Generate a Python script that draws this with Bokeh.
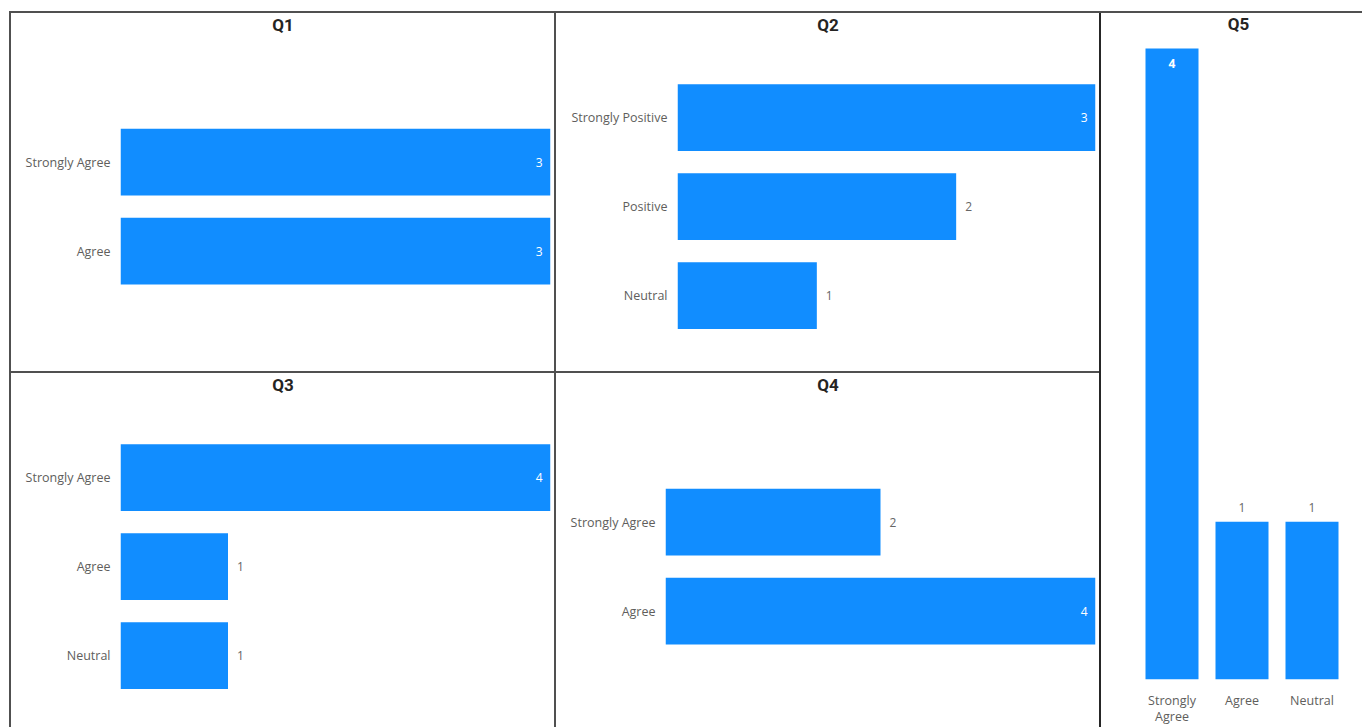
from bokeh.plotting import figure
from bokeh.models import Range1d, FixedTicker, Spacer, ColumnDataSource
from bokeh.layouts import row, column
from bokeh.embed import file_html
from bokeh.resources import INLINE
from bokeh.core.properties import value

# ---- survey results -------------------------------------------------------
q1_cats = ["Strongly Agree", "Agree"]
q1_vals = [3, 3]

q2_cats = ["Strongly Positive", "Positive", "Neutral"]
q2_vals = [3, 2, 1]

q3_cats = ["Strongly Agree", "Agree", "Neutral"]
q3_vals = [4, 1, 1]

q4_cats = ["Strongly Agree", "Agree"]
q4_vals = [2, 4]

q5_cats = ["Strongly Agree", "Agree", "Neutral"]
q5_vals = [4, 1, 1]
q5_tick_labels = ["Strongly\nAgree", "Agree", "Neutral"]

# ---- styling --------------------------------------------------------------
BAR = "#118DFF"
RULE = "#505050"
RULE_DARK = "#262626"
AXIS_TXT = "#605E5C"
VALUE_TXT = "#666666"
TITLE_TXT = "#252423"
LABEL_FONT = "Open Sans"
TITLE_FONT = "Roboto"
TITLE_Y = 11  # px below the panel top


def clean(p):
    p.xgrid.visible = False
    p.ygrid.visible = False
    p.outline_line_color = None
    p.background_fill_color = "white"
    p.border_fill_color = "white"


def draw_title(p, text, x, y):
    p.text(x=[x], y=[y], text=[text], text_align="center", text_baseline="middle",
           text_font=value(TITLE_FONT), text_font_size="17px", text_font_style="bold",
           text_color=TITLE_TXT)


def hbar_panel(title, cats, vals, width, height, left):
    band = 89.0          # px per category slot
    center_px = 193      # px from panel top to the middle of the category block
    bottom = 346         # px from panel top to the bottom of the plot frame
    right = 4
    n = len(cats)
    ys = [n - 1 - i for i in range(n)]
    mid = (n - 1) / 2
    vmax = max(vals)
    px_per_val = (width - left - right) / vmax
    p = figure(width=width, height=height,
               x_range=Range1d(0, vmax),
               y_range=Range1d(mid - (bottom - center_px) / band, mid + center_px / band),
               x_axis_location=None, toolbar_location=None, output_backend="svg",
               min_border_left=left, min_border_right=right,
               min_border_top=0, min_border_bottom=height - bottom)
    clean(p)
    src = ColumnDataSource(dict(y=ys, v=vals))
    p.hbar(y="y", left=0, right="v", height=0.75, source=src, fill_color=BAR, line_color=None)

    inside = [i for i, v in enumerate(vals) if v == vmax]
    outside = [i for i, v in enumerate(vals) if v != vmax]
    if inside:
        s_in = ColumnDataSource(dict(y=[ys[i] for i in inside], v=[vals[i] for i in inside],
                                     t=[str(vals[i]) for i in inside]))
        p.text(x="v", y="y", text="t", source=s_in, text_align="right", text_baseline="middle",
               x_offset=-8, text_color="white", text_font=value(LABEL_FONT), text_font_size="12px")
    if outside:
        s_out = ColumnDataSource(dict(y=[ys[i] for i in outside], v=[vals[i] for i in outside],
                                      t=[str(vals[i]) for i in outside]))
        p.text(x="v", y="y", text="t", source=s_out, text_align="left", text_baseline="middle",
               x_offset=9, text_color=VALUE_TXT, text_font=value(LABEL_FONT), text_font_size="12px")

    ax = p.yaxis[0]
    ax.ticker = FixedTicker(ticks=ys)
    ax.major_label_overrides = {y: c for y, c in zip(ys, cats)}
    ax.axis_line_color = None
    ax.major_tick_line_color = None
    ax.minor_tick_line_color = None
    ax.major_label_standoff = 4
    ax.major_label_text_font = LABEL_FONT
    ax.major_label_text_font_size = "12.5px"
    ax.major_label_text_color = AXIS_TXT

    # title centred over the whole panel
    draw_title(p, title, (width / 2 - left) / px_per_val, mid + (center_px - TITLE_Y) / band)
    return p


def vbar_panel(title, cats, labels, vals, width, height):
    slot = 70.0
    first_center = 70.5
    left = 14
    bar_top_px = 35      # px from panel top to the tallest bar
    bottom = 667
    frame_w = width - left
    n = len(cats)
    xs = list(range(n))
    vmax = max(vals)
    px_per_val = (bottom - bar_top_px) / vmax
    x0 = -(first_center - left) / slot
    x1 = x0 + frame_w / slot
    p = figure(width=width, height=height,
               x_range=Range1d(x0, x1), y_range=Range1d(0, vmax + bar_top_px / px_per_val),
               y_axis_location=None, toolbar_location=None, output_backend="svg",
               min_border_left=left, min_border_right=0,
               min_border_top=0, min_border_bottom=height - bottom)
    clean(p)
    src = ColumnDataSource(dict(x=xs, v=vals))
    p.vbar(x="x", bottom=0, top="v", width=53 / slot, source=src, fill_color=BAR, line_color=None)

    inside = [i for i, v in enumerate(vals) if v == vmax]
    outside = [i for i, v in enumerate(vals) if v != vmax]
    s_in = ColumnDataSource(dict(x=inside, v=[vals[i] for i in inside], t=[str(vals[i]) for i in inside]))
    p.text(x="x", y="v", text="t", source=s_in, text_align="center", text_baseline="middle",
           y_offset=15, text_color="white", text_font=value(LABEL_FONT), text_font_size="12px",
           text_font_style="bold")
    s_out = ColumnDataSource(dict(x=outside, v=[vals[i] for i in outside], t=[str(vals[i]) for i in outside]))
    p.text(x="x", y="v", text="t", source=s_out, text_align="center", text_baseline="middle",
           y_offset=-14, text_color=VALUE_TXT, text_font=value(LABEL_FONT), text_font_size="12px")

    ax = p.xaxis[0]
    ax.ticker = FixedTicker(ticks=xs)
    ax.major_label_overrides = {x: l for x, l in zip(xs, labels)}
    ax.axis_line_color = None
    ax.major_tick_line_color = None
    ax.minor_tick_line_color = None
    ax.major_label_standoff = 6
    ax.major_label_text_font = LABEL_FONT
    ax.major_label_text_font_size = "12.5px"
    ax.major_label_text_color = AXIS_TXT
    ax.major_label_text_line_height = 0.95

    draw_title(p, title, x0 + (137 - left) / slot, vmax + (bar_top_px - TITLE_Y) / px_per_val)
    return p


def rule(w, h, color=RULE):
    return Spacer(width=w, height=h, styles={"background-color": color}, margin=0)


def gap(w, h):
    return Spacer(width=w, height=h, margin=0)


PANEL_W = 543
TOP_H = 358
BOT_H = 354
Q5_W = 261
FULL_H = TOP_H + 2 + BOT_H
GRID_W = PANEL_W * 2 + 2

p1 = hbar_panel("Q1", q1_cats, q1_vals, PANEL_W, TOP_H, 109)
p2 = hbar_panel("Q2", q2_cats, q2_vals, PANEL_W, TOP_H, 121)
p3 = hbar_panel("Q3", q3_cats, q3_vals, PANEL_W, BOT_H, 109)
p4 = hbar_panel("Q4", q4_cats, q4_vals, PANEL_W, BOT_H, 109)
p5 = vbar_panel("Q5", q5_cats, q5_tick_labels, q5_vals, Q5_W, FULL_H)

top_row = row(p1, rule(2, TOP_H), p2, spacing=0)
bottom_row = row(p3, rule(2, BOT_H), p4, spacing=0)
grid = column(top_row, rule(GRID_W, 2), bottom_row, spacing=0)

body = row(rule(2, FULL_H), grid, rule(2, FULL_H, RULE_DARK), p5, spacing=0)
page = column(
    gap(1362, 11),
    row(gap(9, 2), rule(1353, 2), spacing=0),
    row(gap(9, FULL_H), body, spacing=0),
    spacing=0,
)

with open("out.html", "w") as f:
    f.write(file_html(page, INLINE, title="Survey results"))
